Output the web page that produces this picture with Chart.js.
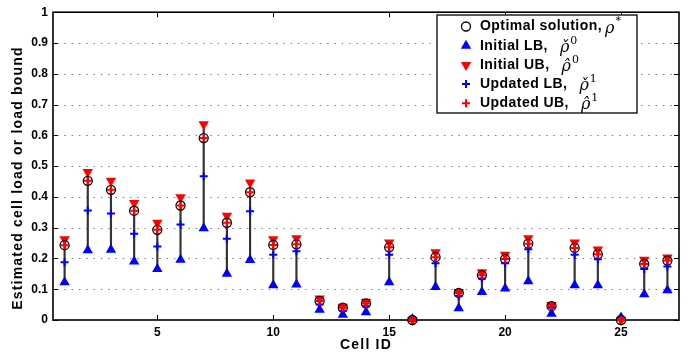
<!DOCTYPE html>
<html>
<head>
<meta charset="utf-8">
<script src="https://cdn.jsdelivr.net/npm/chart.js@4.4.1/dist/chart.umd.min.js"></script>
<style>
  html, body { margin: 0; padding: 0; background: #fff; }
  #wrap { width: 699px; height: 356px; }
</style>
</head>
<body>
<div id="wrap"><canvas id="myChart" width="699" height="356"></canvas></div>
<script>
// values, one entry per cell
const cellIds    = [1, 2, 3, 4, 5, 6, 7, 8, 9, 10, 11, 12, 13, 14, 15, 16, 17, 18, 19, 20, 21, 22, 23, 24, 25, 26, 27];
const optimal    = [0.243, 0.452, 0.423, 0.355, 0.293, 0.372, 0.591, 0.316, 0.415, 0.244, 0.246, 0.062, 0.040, 0.054, 0.236, 0.000, 0.204, 0.088, 0.145, 0.198, 0.248, 0.045, 0.234, 0.214, 0.000, 0.182, 0.193];
const initialLB  = [0.123, 0.227, 0.228, 0.190, 0.166, 0.196, 0.298, 0.150, 0.195, 0.113, 0.115, 0.033, 0.017, 0.025, 0.123, 0.003, 0.107, 0.038, 0.091, 0.102, 0.126, 0.020, 0.113, 0.113, 0.008, 0.084, 0.097];
const initialUB  = [0.262, 0.481, 0.452, 0.380, 0.316, 0.399, 0.636, 0.339, 0.447, 0.262, 0.266, 0.070, 0.043, 0.059, 0.252, 0.000, 0.220, 0.091, 0.155, 0.212, 0.266, 0.049, 0.252, 0.229, 0.000, 0.196, 0.203];
const updatedLB  = [0.188, 0.356, 0.346, 0.280, 0.239, 0.310, 0.467, 0.264, 0.353, 0.212, 0.223, 0.050, 0.030, 0.045, 0.212, 0.000, 0.184, 0.078, 0.135, 0.184, 0.230, 0.040, 0.212, 0.197, 0.000, 0.166, 0.174];
const updatedUB  = [0.243, 0.452, 0.423, 0.355, 0.293, 0.372, 0.591, 0.316, 0.415, 0.244, 0.246, 0.062, 0.040, 0.054, 0.236, 0.000, 0.204, 0.088, 0.145, 0.198, 0.248, 0.045, 0.234, 0.214, 0.000, 0.182, 0.193];

const xTicks = [5, 10, 15, 20, 25];
const yTickLabels = ['0', '0.1', '0.2', '0.3', '0.4', '0.5', '0.6', '0.7', '0.8', '0.9', '1'];
const xTitle = 'Cell ID';
const yTitle = 'Estimated cell load or load bound';

const legendLabels  = ['Optimal solution,', 'Initial LB,', 'Initial UB,', 'Updated LB,', 'Updated UB,'];
const legendSymbols = ['\u03c1', '\u03c1\u030c', '\u03c1\u0302', '\u03c1\u030c', '\u03c1\u0302'];
const legendSups    = ['*', '0', '0', '1', '1'];

const BLUE = '#0000ff';
const RED = '#ff0000';
const FONT = '"Liberation Sans", Arial, sans-serif';

function pts(vals) {
    return cellIds.map((c, i) => ({x: c, y: vals[i]}));
}

// dotted grid, inward tick marks and the box round the axes
const framePlugin = {
    id: 'frame',
    beforeDatasetsDraw(chart) {
        const ctx = chart.ctx;
        const a = chart.chartArea;
        const x = chart.scales.x, y = chart.scales.y;
        ctx.save();
        ctx.strokeStyle = '#7a7a7a';
        ctx.lineWidth = 1;
        ctx.setLineDash([1.5, 5.8]);
        y.ticks.forEach(t => {
            if (t.value <= 0 || t.value >= 1) return;
            const py = Math.round(y.getPixelForValue(t.value)) + 0.5;
            ctx.beginPath(); ctx.moveTo(a.left + 4, py); ctx.lineTo(a.right, py); ctx.stroke();
        });
        ctx.setLineDash([]);
        ctx.strokeStyle = '#000';
        ctx.lineWidth = 1;
        const tl = 5;
        y.ticks.forEach(t => {
            const py = Math.round(y.getPixelForValue(t.value)) + 0.5;
            ctx.beginPath();
            ctx.moveTo(a.left, py); ctx.lineTo(a.left + tl, py);
            ctx.moveTo(a.right, py); ctx.lineTo(a.right - tl, py);
            ctx.stroke();
        });
        x.ticks.forEach(t => {
            const px = Math.round(x.getPixelForValue(t.value)) + 0.5;
            ctx.beginPath();
            ctx.moveTo(px, a.bottom); ctx.lineTo(px, a.bottom - tl);
            ctx.moveTo(px, a.top); ctx.lineTo(px, a.top + tl);
            ctx.stroke();
        });
        ctx.lineWidth = 1.6;
        ctx.strokeRect(a.left, a.top, a.right - a.left, a.bottom - a.top);

        // axis titles
        ctx.fillStyle = '#000';
        ctx.font = 'bold 14px ' + FONT;
        ctx.letterSpacing = '1.2px';
        ctx.textAlign = 'center';
        ctx.textBaseline = 'middle';
        ctx.fillText(xTitle, (a.left + a.right) / 2, 345);
        ctx.translate(18, 178);
        ctx.rotate(-Math.PI / 2);
        ctx.fillText(yTitle, 0, 0);
        ctx.restore();
    }
};

function drawMarker(ctx, kind, cx, cy) {
    ctx.save();
    ctx.beginPath();
    if (kind === 'circle') {
        ctx.strokeStyle = '#000'; ctx.lineWidth = 1.3;
        ctx.arc(cx, cy, 4.5, 0, Math.PI * 2); ctx.stroke();
    } else if (kind === 'up' || kind === 'down') {
        const r = 6, s = kind === 'up' ? 1 : -1;
        ctx.fillStyle = kind === 'up' ? BLUE : RED;
        ctx.moveTo(cx, cy - s * r);
        ctx.lineTo(cx + r * 0.866, cy + s * r * 0.5);
        ctx.lineTo(cx - r * 0.866, cy + s * r * 0.5);
        ctx.closePath(); ctx.fill();
    } else {
        ctx.strokeStyle = kind === 'plusB' ? BLUE : RED; ctx.lineWidth = 2;
        ctx.moveTo(cx - 4, cy); ctx.lineTo(cx + 4, cy);
        ctx.moveTo(cx, cy - 4); ctx.lineTo(cx, cy + 4);
        ctx.stroke();
    }
    ctx.restore();
}

const legendPlugin = {
    id: 'boxLegend',
    afterDraw(chart) {
        const ctx = chart.ctx;
        const bx = 437, by = 15, bw = 200, bh = 98;
        const kinds = ['circle', 'up', 'down', 'plusB', 'plusR'];
        ctx.save();
        ctx.fillStyle = '#fff';
        ctx.fillRect(bx, by, bw, bh);
        ctx.strokeStyle = '#000';
        ctx.lineWidth = 1.3;
        ctx.strokeRect(bx, by, bw, bh);
        legendLabels.forEach((lab, i) => {
            const cy = 26.5 + i * 19.2;
            drawMarker(ctx, kinds[i], 466, cy);
            ctx.fillStyle = '#000';
            ctx.textBaseline = 'middle';
            ctx.font = 'bold 14px ' + FONT;
            ctx.letterSpacing = '0.45px';
            ctx.fillText(lab, 480, cy);
            let sx = 480 + ctx.measureText(lab).width + (i === 0 ? 3 : 12);
            ctx.letterSpacing = '0px';
            ctx.font = 'italic 16px "DejaVu Serif", serif';
            ctx.fillText(legendSymbols[i], sx, cy + 2);
            sx += ctx.measureText('\u03c1').width + 1;
            ctx.font = '11px "DejaVu Serif", serif';
            ctx.fillText(legendSups[i], sx, cy - 5);
        });
        ctx.restore();
    }
};

const ctx = document.getElementById('myChart').getContext('2d');
new Chart(ctx, {
    type: 'scatter',
    data: {
        datasets: [
            {
                type: 'bar',
                label: 'range',
                data: cellIds.map((c, i) => ({x: c, y: [initialLB[i], initialUB[i]]})),
                backgroundColor: '#333333',
                barThickness: 1.5,
                order: 10
            },
            {
                label: 'Initial LB',
                data: pts(initialLB),
                pointStyle: 'triangle',
                pointRadius: 6,
                backgroundColor: BLUE,
                borderColor: BLUE,
                borderWidth: 0,
                clip: false,
                order: 6
            },
            {
                label: 'Initial UB',
                data: pts(initialUB),
                pointStyle: 'triangle',
                rotation: 180,
                pointRadius: 6,
                backgroundColor: RED,
                borderColor: RED,
                borderWidth: 0,
                clip: false,
                order: 5
            },
            {
                label: 'Optimal solution',
                data: pts(optimal),
                pointStyle: 'circle',
                pointRadius: 4.5,
                backgroundColor: 'rgba(0,0,0,0)',
                borderColor: '#000',
                borderWidth: 1.3,
                clip: false,
                order: 4
            },
            {
                label: 'Updated LB',
                data: pts(updatedLB),
                pointStyle: 'cross',
                pointRadius: 4,
                borderColor: BLUE,
                borderWidth: 2,
                clip: false,
                order: 3
            },
            {
                label: 'Updated UB',
                data: pts(updatedUB),
                pointStyle: 'cross',
                pointRadius: 4,
                borderColor: RED,
                borderWidth: 2,
                clip: false,
                order: 2
            }
        ]
    },
    options: {
        responsive: false,
        animation: false,
        devicePixelRatio: 1,
        layout: {padding: {top: 10, right: 20, left: 0, bottom: 0}},
        plugins: {
            legend: {display: false},
            tooltip: {enabled: false}
        },
        scales: {
            x: {
                type: 'linear',
                min: 0.5,
                max: 27.5,
                offset: false,
                afterBuildTicks: axis => { axis.ticks = xTicks.map(v => ({value: v})); },
                afterFit: axis => { axis.height = 36; },
                grid: {display: false, drawTicks: false, tickLength: 0},
                border: {display: false},
                ticks: {
                    color: '#000',
                    padding: 5,
                    maxRotation: 0,
                    font: {family: FONT, size: 12, weight: 'bold'}
                }
            },
            y: {
                min: 0,
                max: 1,
                afterBuildTicks: axis => { axis.ticks = yTickLabels.map((s, i) => ({value: i / 10})); },
                afterFit: axis => { axis.width = 53; },
                grid: {display: false, drawTicks: false, tickLength: 0},
                border: {display: false},
                ticks: {
                    color: '#000',
                    padding: 5,
                    callback: (v, i) => yTickLabels[i],
                    font: {family: FONT, size: 12, weight: 'bold'}
                }
            }
        }
    },
    plugins: [framePlugin, legendPlugin]
});
</script>
</body>
</html>
